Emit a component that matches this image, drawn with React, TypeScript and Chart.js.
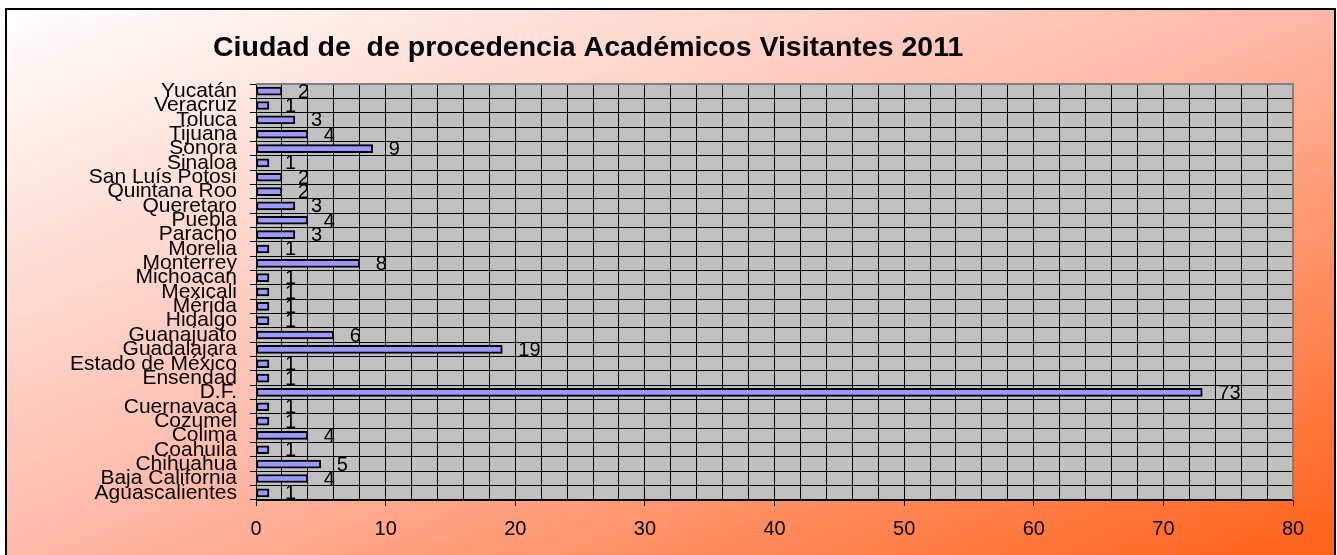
import React, { useEffect, useRef } from 'react';
import { Chart, registerables } from 'chart.js';

Chart.register(...registerables);

// ---- Data (listed bottom-to-top as in the reference) ----
const categories = [
  'Aguascalientes', 'Baja California', 'Chihuahua', 'Coahuila', 'Colima', 'Cozumel',
  'Cuernavaca', 'D.F.', 'Ensendad', 'Estado de México', 'Guadalajara', 'Guanajuato',
  'Hidalgo', 'Mérida', 'Mexicali', 'Michoacan', 'Monterrey', 'Morelia', 'Paracho',
  'Puebla', 'Queretaro', 'Quintana Roo', 'San Luís Potosí', 'Sinaloa', 'Sonora',
  'Tijuana', 'Toluca', 'Veracruz', 'Yucatán',
];
const visitantes = [
  1, 4, 5, 1, 4, 1,
  1, 73, 1, 1, 19, 6,
  1, 1, 1, 1, 8, 1, 3,
  4, 3, 2, 2, 1, 9,
  4, 3, 1, 2,
];
const xMin = 0;
const xMax = 80;
const xLabelStep = 10;
const xGridStep = 2;
const chartTitle = 'Ciudad de  de procedencia Académicos Visitantes 2011';

const FONT = "'Liberation Sans', Arial, Helvetica, sans-serif";
const W = 1337;
const H = 555;

const decorPlugin = {
  id: 'decor',
  beforeDraw(chart: any) {
    const ctx = chart.ctx as CanvasRenderingContext2D;
    const a = chart.chartArea;
    ctx.save();
    const x0 = 6, y0 = 9, bw = 1329, bh = 560;
    const t = (2 * bw * bh) / (bw * bw + bh * bh);
    const g = ctx.createLinearGradient(x0, y0, x0 + t * bh, y0 + t * bw);
    g.addColorStop(0, '#ffffff');
    g.addColorStop(0.5, '#ffb8a6');
    g.addColorStop(1, '#ff5e12');
    ctx.fillStyle = g;
    ctx.fillRect(x0, y0, bw, bh);
    ctx.lineWidth = 2;
    ctx.strokeStyle = '#000';
    ctx.strokeRect(x0, y0, bw, bh);
    // plot area
    ctx.fillStyle = '#c0c0c0';
    ctx.fillRect(a.left, a.top, a.right - a.left, a.bottom - a.top);
    // title
    ctx.font = `bold 28.5px ${FONT}`;
    ctx.fillStyle = '#000';
    ctx.textAlign = 'left';
    ctx.textBaseline = 'alphabetic';
    ctx.fillText(chartTitle, 213, 56);
    ctx.restore();
  },
  afterDatasetsDraw(chart: any) {
    const ctx = chart.ctx as CanvasRenderingContext2D;
    const a = chart.chartArea;
    ctx.save();
    // gray plot border top & right
    ctx.strokeStyle = '#808080';
    ctx.lineWidth = 2;
    ctx.beginPath();
    ctx.moveTo(a.left, a.top);
    ctx.lineTo(a.right, a.top);
    ctx.lineTo(a.right, a.bottom);
    ctx.stroke();
    // value labels
    const meta = chart.getDatasetMeta(0);
    ctx.font = `20px ${FONT}`;
    ctx.fillStyle = '#000';
    ctx.textAlign = 'left';
    ctx.textBaseline = 'middle';
    meta.data.forEach((el: any, i: number) => {
      const v = chart.data.datasets[0].data[i];
      ctx.fillText(String(v), el.x + 16, el.y + 1);
    });
    ctx.restore();
  },
};

export default function App() {
  const ref = useRef<HTMLCanvasElement | null>(null);
  useEffect(() => {
    if (!ref.current) return;
    const chart = new Chart(ref.current, {
      type: 'bar',
      data: {
        labels: categories,
        datasets: [
          {
            data: visitantes,
            backgroundColor: '#9999ff',
            borderColor: '#000000',
            borderWidth: 2,
            borderSkipped: false,
            barThickness: 8,
          },
        ],
      },
      options: {
        indexAxis: 'y',
        responsive: false,
        animation: false,
        devicePixelRatio: 1,
        layout: { padding: { top: 84, right: 44, bottom: 0, left: 0 } },
        plugins: {
          legend: { display: false },
          title: { display: false },
          tooltip: { enabled: false },
        },
        scales: {
          y: {
            type: 'category',
            reverse: true,
            offset: true,
            afterFit: (s: any) => { s.width = 256; },
            grid: {
              offset: true,
              color: '#000',
              lineWidth: 1,
              tickLength: 6,
              tickColor: '#000',
              drawOnChartArea: true,
            },
            border: { display: true, color: '#000', width: 1 },
            ticks: {
              autoSkip: false,
              color: '#000',
              padding: 13,
              font: { family: FONT, size: 21 },
            },
          },
          x: {
            type: 'linear',
            min: xMin,
            max: xMax,
            afterFit: (s: any) => { s.height = H - 500; },
            grid: {
              color: '#000',
              lineWidth: 1,
              tickLength: 6,
              tickColor: (ctx: any) =>
                ctx.tick && ctx.tick.value % xLabelStep === 0 ? '#000' : 'rgba(0,0,0,0)',
            },
            border: { display: true, color: '#000', width: 1 },
            ticks: {
              stepSize: xGridStep,
              autoSkip: false,
              maxRotation: 0,
              color: '#000',
              padding: 11,
              font: { family: FONT, size: 20 },
              callback: (v: any) => (Number(v) % xLabelStep === 0 ? String(v) : ''),
            },
          },
        },
      },
      plugins: [decorPlugin],
    });
    return () => chart.destroy();
  }, []);

  return (
    <div style={{ position: 'absolute', left: 0, top: 0, width: W, height: H, overflow: 'hidden' }}>
      <canvas ref={ref} width={W} height={H} style={{ display: 'block', width: W, height: H }} />
    </div>
  );
}
